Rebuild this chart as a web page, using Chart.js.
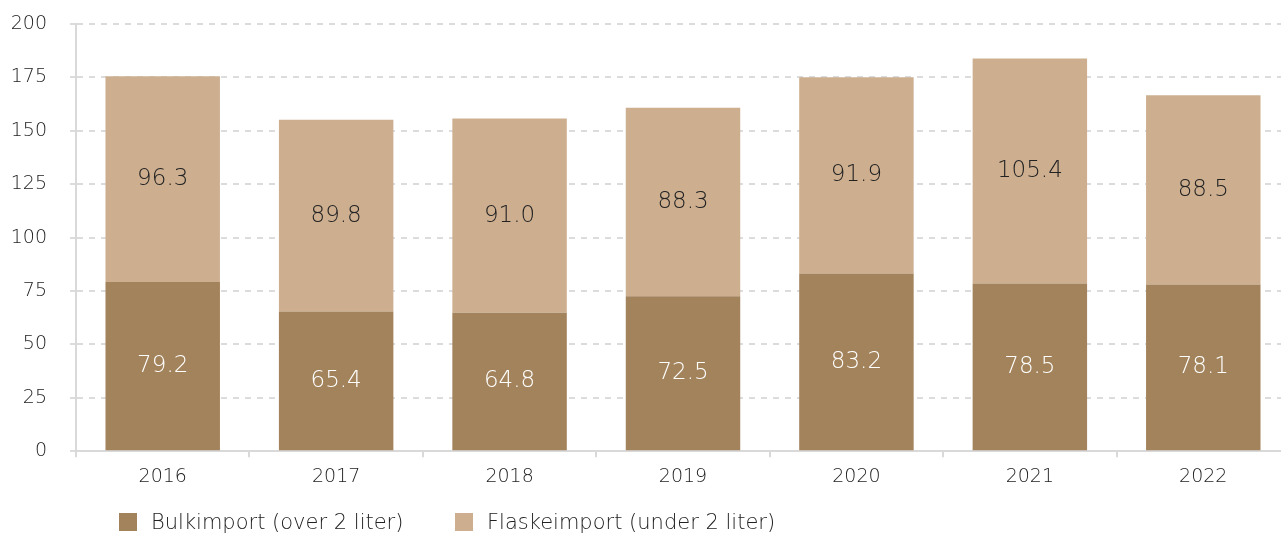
<!DOCTYPE html>
<html>
<head>
<meta charset="utf-8">
<script src="https://cdn.jsdelivr.net/npm/chart.js@4.4.1/dist/chart.umd.min.js"></script>
<style>
  html, body { margin: 0; padding: 0; background: #fff; overflow: hidden; }
  #wrap { position: relative; width: 1281px; height: 534px; overflow: hidden; }
  #c { position: absolute; left: 0; top: 0; }
  .item { position: absolute; top: 510px; display: flex; align-items: center; font-family: 'DejaVu Sans', sans-serif; font-weight: 200; font-size: 21px; color: #222; white-space: nowrap; }
  .box { width: 18px; height: 18px; margin-right: 14px; }
</style>
</head>
<body>
<div id="wrap">
  <canvas id="c" width="1290" height="534"></canvas>
</div>
<script>
const categories = ['2016', '2017', '2018', '2019', '2020', '2021', '2022'];
const bulkValues = [79.2, 65.4, 64.8, 72.5, 83.2, 78.5, 78.1];
const flaskeValues = [96.3, 89.8, 91.0, 88.3, 91.9, 105.4, 88.5];
const seriesNames = ['Bulkimport (over 2 liter)', 'Flaskeimport (under 2 liter)'];
const yTicks = [0, 25, 50, 75, 100, 125, 150, 175, 200];

const colors = ['#A3835B', '#CDAF90'];
const labelColors = ['#ffffff', '#222222'];
const textColor = '#222';
const fontFamily = "'DejaVu Sans', sans-serif";
const legendLeft = [119, 455];

const labelPlugin = {
  id: 'barLabels',
  afterDatasetsDraw(chart) {
    const ctx = chart.ctx;
    ctx.save();
    ctx.font = '200 23px ' + fontFamily;
    ctx.textAlign = 'center';
    ctx.textBaseline = 'middle';
    chart.data.datasets.forEach((ds, di) => {
      const meta = chart.getDatasetMeta(di);
      meta.data.forEach((bar, i) => {
        const p = bar.getProps(['x', 'y', 'base'], true);
        ctx.fillStyle = labelColors[di];
        ctx.fillText(ds.data[i].toFixed(1), p.x, (p.y + p.base) / 2);
      });
    });
    ctx.restore();
  }
};

const chart = new Chart(document.getElementById('c'), {
  type: 'bar',
  data: {
    labels: categories,
    datasets: [
      { label: seriesNames[0], data: bulkValues, backgroundColor: colors[0] },
      { label: seriesNames[1], data: flaskeValues, backgroundColor: colors[1] }
    ]
  },
  options: {
    responsive: false,
    animation: false,
    datasets: { bar: { categoryPercentage: 1, barPercentage: 0.66 } },
    layout: { padding: { top: 24, right: 0, left: 0, bottom: 38 } },
    plugins: { legend: { display: false }, tooltip: { enabled: false } },
    scales: {
      x: {
        stacked: true,
        offset: true,
        grid: { offset: true, drawOnChartArea: false, tickLength: 6, color: '#d9d9d9', lineWidth: 2 },
        border: { color: '#d9d9d9', width: 2 },
        ticks: { color: textColor, font: { family: fontFamily, size: 19, weight: 200 }, padding: 8 }
      },
      y: {
        stacked: true,
        min: 0, max: 200,
        afterBuildTicks: (axis) => { axis.ticks = yTicks.map(v => ({ value: v })); },
        afterFit: (scale) => { scale.width = 76; scale.paddingTop = 0; scale.paddingBottom = 0; },
        grid: { color: '#dcdcdc', tickLength: 6, lineWidth: 2 },
        border: { color: '#d9d9d9', width: 2, dash: [6, 6] },
        ticks: { color: textColor, font: { family: fontFamily, size: 19, weight: 200 }, padding: 23 }
      }
    }
  },
  plugins: [labelPlugin]
});

const wrap = document.getElementById('wrap');
seriesNames.forEach((n, i) => {
  const it = document.createElement('div');
  it.className = 'item';
  it.style.left = legendLeft[i] + 'px';
  const b = document.createElement('div');
  b.className = 'box';
  b.style.background = colors[i];
  const t = document.createElement('span');
  t.textContent = n;
  it.appendChild(b); it.appendChild(t);
  wrap.appendChild(it);
});
</script>
</body>
</html>
